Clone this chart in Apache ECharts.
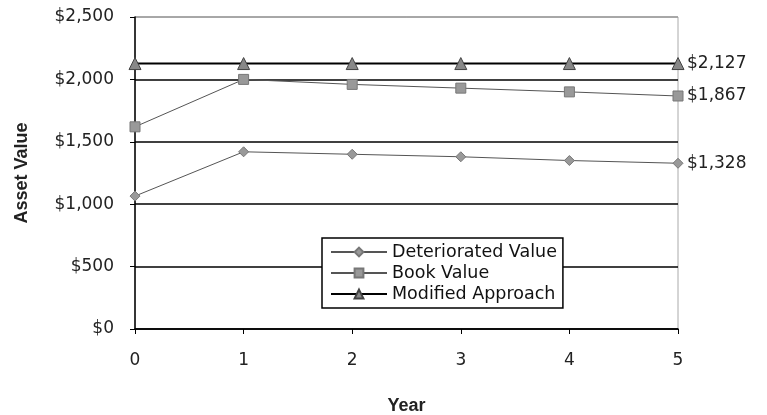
<!DOCTYPE html>
<html><head><meta charset="utf-8">
<script src="https://cdn.jsdelivr.net/npm/echarts@6/dist/echarts.min.js"></script>
<style>html,body{margin:0;padding:0;background:#fff}#c{width:767px;height:415px}</style>
</head><body><div id="c"></div>
<script>
const years = ['0','1','2','3','4','5'];
const deteriorated = [1065, 1420, 1400, 1380, 1350, 1328];
const book = [1620, 2000, 1960, 1930, 1900, 1867];
const modified = [2127, 2127, 2127, 2127, 2127, 2127];
const yTicks = [0, 500, 1000, 1500, 2000, 2500];

const fmt = v => '$' + Math.round(v).toLocaleString('en-US');
const font = 'DejaVu Sans, Arial, sans-serif';
const bfont = 'Liberation Sans, Arial, sans-serif';
const chart = echarts.init(document.getElementById('c'));
function endLbl() {
  return {show: true, formatter: p => fmt(p.value), fontFamily: font, fontSize: 17, color: '#222', distance: 9};
}
chart.setOption({
  animation: false,
  backgroundColor: '#fff',
  grid: {left: 135, right: 89, top: 17, bottom: 86, show: true, borderColor: '#aaa', borderWidth: 1,
         containLabel: false, outerBoundsMode: 'none'},
  legend: {
    orient: 'vertical', left: 322, top: 238, itemGap: 3, itemWidth: 56, itemHeight: 11,
    backgroundColor: '#fff', borderColor: '#000', borderWidth: 1.5, borderRadius: 0,
    padding: [5, 6, 5, 8],
    textStyle: {fontFamily: font, fontSize: 17.5, color: '#111', padding: [0, 0, 0, 0], lineHeight: 17},
    data: ['Deteriorated Value', 'Book Value', 'Modified Approach']
  },
  xAxis: {
    type: 'category', data: years, boundaryGap: false,
    name: 'Year', nameLocation: 'middle', nameGap: 68,
    nameTextStyle: {fontFamily: bfont, fontSize: 18, fontWeight: 'bold', color: '#222'},
    axisLine: {lineStyle: {color: '#000', width: 1.5}},
    axisTick: {show: true, length: 5, lineStyle: {color: '#000'}},
    axisLabel: {fontFamily: font, fontSize: 17, color: '#222', margin: 23},
    splitLine: {show: false}
  },
  yAxis: {
    type: 'value', min: 0, max: 2500, interval: 500,
    name: 'Asset Value', nameLocation: 'middle', nameGap: 104, nameRotate: 90,
    nameTextStyle: {fontFamily: bfont, fontSize: 18, fontWeight: 'bold', color: '#222'},
    axisLine: {show: true, lineStyle: {color: '#000', width: 1.5}},
    axisTick: {show: true, length: 5, lineStyle: {color: '#000'}},
    axisLabel: {fontFamily: font, fontSize: 17, color: '#222', margin: 21, formatter: v => fmt(v)},
    splitLine: {show: true, lineStyle: {color: ['#000', '#000', '#000', '#000', '#000', '#999'], width: 1.5}}
  },
  series: [
    {name: 'Deteriorated Value', type: 'line', data: deteriorated, symbol: 'diamond', symbolSize: 10,
     itemStyle: {color: '#999', borderColor: '#777', borderWidth: 1},
     lineStyle: {color: '#555', width: 1}, endLabel: endLbl()},
    {name: 'Book Value', type: 'line', data: book, symbol: 'rect', symbolSize: 10,
     itemStyle: {color: '#999', borderColor: '#777', borderWidth: 1},
     lineStyle: {color: '#555', width: 1}, endLabel: endLbl()},
    {name: 'Modified Approach', type: 'line', data: modified, symbol: 'triangle', symbolSize: 12,
     itemStyle: {color: '#888', borderColor: '#444', borderWidth: 1},
     lineStyle: {color: '#000', width: 2}, endLabel: endLbl()}
  ]
});
</script></body></html>
